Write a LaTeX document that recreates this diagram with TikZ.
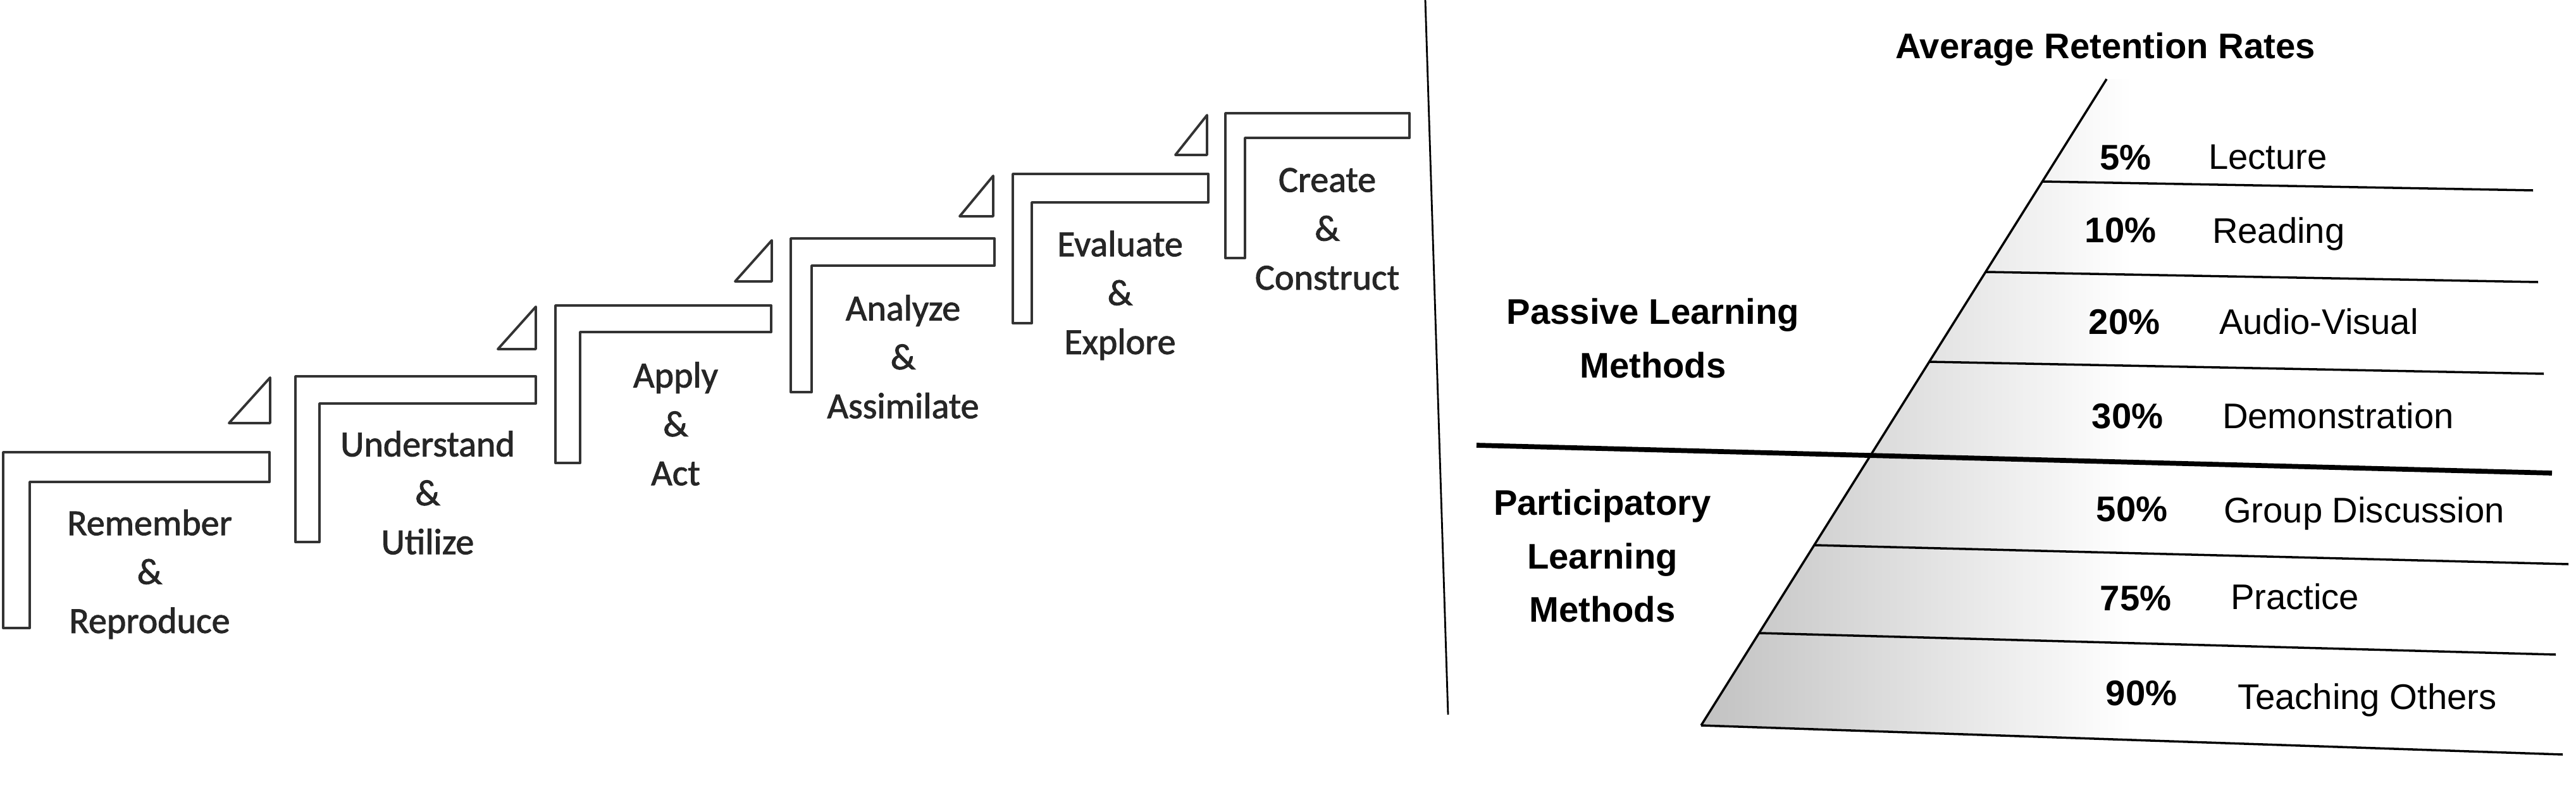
\documentclass[tikz,border=0pt]{standalone}
\usepackage{fontspec}
\setmainfont{Liberation Sans}
\newfontfamily\stepfont[FakeBold=1.6]{Carlito}
\usetikzlibrary{calc}

\begin{document}
\begin{tikzpicture}[every node/.style={outer sep=0pt,inner sep=0pt},
		stair/.style={draw=black!80,line width=1.1pt,line join=round},
		wedge/.style={draw=black!80,line width=1.1pt,line join=round},
		steptext/.style={font=\stepfont\fontsize{16.5}{22}\selectfont,align=center,text=black!85},
		band/.style={line width=1pt},
		split/.style={line width=2.2pt},
		heading/.style={font=\bfseries\fontsize{16}{19}\selectfont,anchor=base},
		rate/.style={font=\bfseries\fontsize{16}{19}\selectfont,anchor=base},
		mode/.style={font=\fontsize{16}{19}\selectfont,anchor=base west},
		group/.style={font=\bfseries\fontsize{16}{24}\selectfont,align=center}]

	\useasboundingbox (0,0) rectangle (40.72,-12.76);

	% stairs: left/top/right/bar/inner/bottom/text centre
	\foreach \l/\t/\r/\b/\i/\d/\c/\txt [count=\n] in {
		0.05/7.15/4.26/7.62/0.47/9.93/9.08/{Remember\\\&\\Reproduce},
		4.67/5.95/8.47/6.38/5.05/8.57/7.79/{Understand\\\&\\Utilize},
		8.78/4.83/12.19/5.25/9.17/7.32/6.70/{Apply\\\&\\Act},
		12.50/3.77/15.72/4.20/12.83/6.20/5.64/{Analyze\\\&\\Assimilate},
		16.01/2.75/19.10/3.20/16.31/5.11/4.67/{Evaluate\\\&\\Explore},
		19.37/1.79/22.28/2.18/19.68/4.08/3.62/{Create\\\&\\Construct}}
	{
		\draw[stair] (\l,-\t) -- (\r,-\t) -- (\r,-\b) -- (\i,-\b) -- (\i,-\d) -- (\l,-\d) -- cycle;
		\node[steptext] (s\n) at ({(\i+\r)/2},-\c) {\txt};
	}

	% small wedges in front of each step
	\foreach \x/\t/\b/\w in {4.27/5.97/6.69/3.62, 8.47/4.85/5.52/7.87,
		12.20/3.80/4.45/11.62, 15.70/2.78/3.42/15.17, 19.08/1.82/2.45/18.58}
	\draw[wedge] (\x,-\t) -- (\x,-\b) -- (\w,-\b) -- cycle;

	\draw[line width=0.8pt] (22.53,0) coordinate (v1) -- (22.89,-11.30) coordinate (v2);

	% retention pyramid
	\coordinate (apex) at (33.30,-1.25);
	\coordinate (foot) at (26.89,-11.47);
	\shade[left color=black!24,right color=white,middle color=white]
		(apex) -- (foot) -- (40.51,-11.93) -- (40.51,-1.25) -- cycle;
	\draw[band] (apex) -- (foot);

	\foreach \t/\rx/\ry [count=\k] in {0.1585/40.04/3.01, 0.2984/40.12/4.46,
		0.4374/40.21/5.91, 0.7211/40.60/8.92, 0.8571/40.40/10.35, 1/40.51/11.93}
	\draw[band] ($(apex)!\t!(foot)$) coordinate (e\k) -- (\rx,-\ry) coordinate (r\k);

	\draw[split] (23.34,-7.04) coordinate (d1) -- (40.34,-7.48) coordinate (d2);

	\node[heading] (title) at (33.28,-0.92) {Average Retention Rates};

	\foreach \p/\px/\py/\lab/\lx/\ly [count=\k] in {
		5\%/33.60/2.68/Lecture/34.91/2.67,
		10\%/33.52/3.83/Reading/34.97/3.84,
		20\%/33.58/5.28/Audio-Visual/35.08/5.28,
		30\%/33.63/6.77/Demonstration/35.13/6.77,
		50\%/33.70/8.24/Group Discussion/35.15/8.26,
		75\%/33.76/9.65/Practice/35.26/9.63,
		90\%/33.85/11.15/Teaching Others/35.37/11.21}
	{
		\node[rate] (p\k) at (\px,-\py) {\p};
		\node[mode] (m\k) at (\lx,-\ly) {\lab};
	}

	\node[group] (passive) at (26.13,-5.35) {Passive Learning\\Methods};
	\node[group] (active) at (25.33,-8.79) {Participatory\\Learning\\Methods};

\end{tikzpicture}
\end{document}
